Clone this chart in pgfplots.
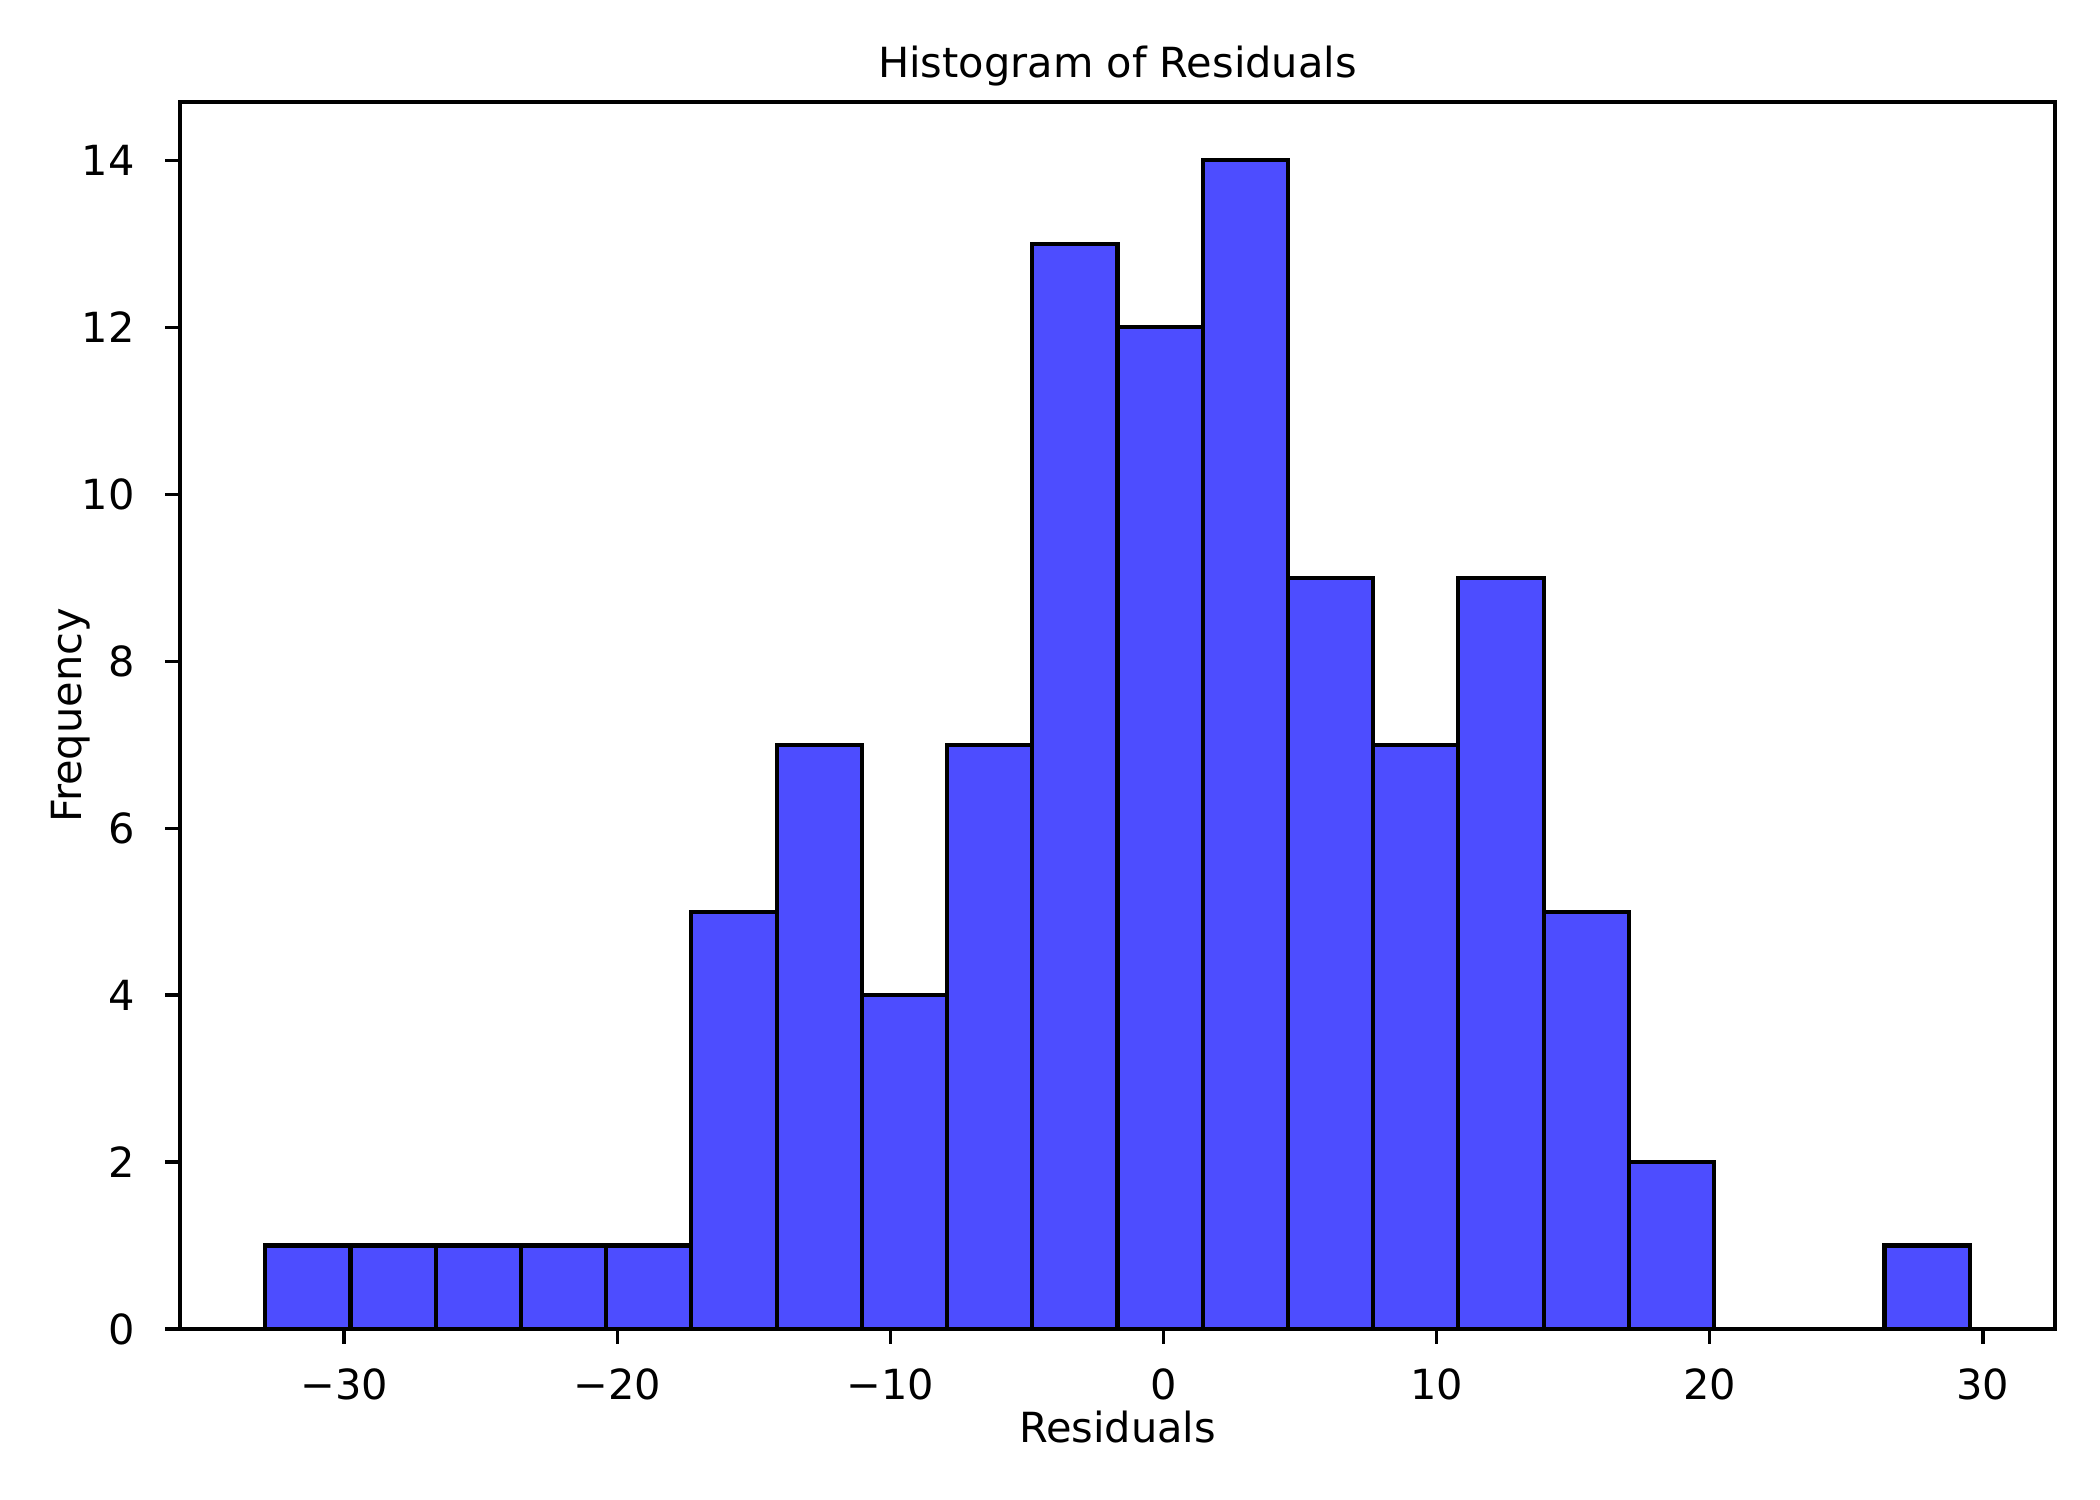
\documentclass[border=0pt]{standalone}
\usepackage{fontspec}
\setmainfont{DejaVu Sans}
\usepackage{pgfplots}
\pgfplotsset{compat=1.18}
\definecolor{barblue}{RGB}{77,77,255}

\begin{document}
\begin{tikzpicture}
\useasboundingbox (0,0) rectangle (7in,5in);
\begin{axis}[
    at={(0.6in,0.57in)}, anchor=south west,
    scale only axis,
    width=6.25in, height=4.09in,
    xmin=-36.0105, xmax=32.6405,
    ymin=0, ymax=14.7,
    xtick={-30,-20,-10,0,10,20,30},
    xticklabels={−30,−20,−10,0,10,20,30},
    ytick={0,2,4,6,8,10,12,14},
    /pgf/number format/assume math mode=true,
    tick align=outside,
    major tick length=3.5pt,
    tick style={line width=0.8pt, black},
    xtick pos=bottom, ytick pos=left,
    axis line style={line width=0.8pt},
    axis on top,
    xticklabel style={anchor=base, yshift=-13.4pt},
    yticklabel style={xshift=-3.9pt},
    every axis title shift=0pt,
    title={Histogram of Residuals},
    title style={at={(axis description cs:0.5,1)}, anchor=base, yshift=6pt},
    xlabel={Residuals},
    ylabel={Frequency},
    xlabel style={at={(axis description cs:0.5,0)}, anchor=base, yshift=-27.4pt},
    ylabel style={at={(axis description cs:0,0.5)}, anchor=base, yshift=23.8pt},
    ]
    \addplot[ybar interval, fill=barblue, draw=black, line width=1pt] coordinates {
        (-32.89,1) (-29.7695,1) (-26.649,1) (-23.5285,1) (-20.408,1)
        (-17.2875,5) (-14.167,7) (-11.0465,4) (-7.926,7) (-4.8055,13)
        (-1.685,12) (1.4355,14) (4.556,9) (7.6765,7) (10.797,9)
        (13.9175,5) (17.038,2) (20.1585,0) (23.279,0) (26.3995,1)
        (29.52,1)
    };
\end{axis}
\end{tikzpicture}
\end{document}
